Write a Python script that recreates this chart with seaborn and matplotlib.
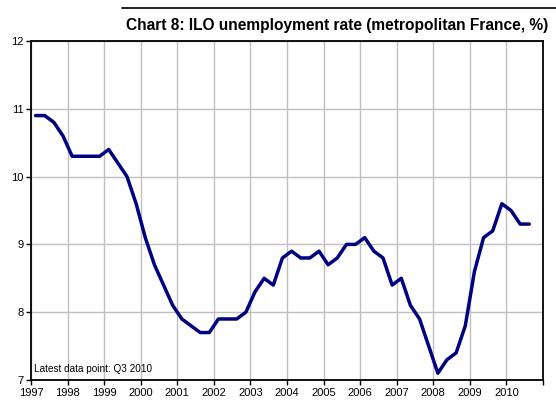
import numpy as np
import pandas as pd
import matplotlib
matplotlib.use("Agg")
import matplotlib.pyplot as plt
from matplotlib.lines import Line2D
import seaborn as sns

years = list(range(1997, 2011))
quarters = ["Q1", "Q2", "Q3", "Q4"]
rate = [
    10.9, 10.9, 10.8, 10.6,   # 1997
    10.3, 10.3, 10.3, 10.3,   # 1998
    10.4, 10.2, 10.0, 9.6,    # 1999
    9.1, 8.7, 8.4, 8.1,       # 2000
    7.9, 7.8, 7.7, 7.7,       # 2001
    7.9, 7.9, 7.9, 8.0,       # 2002
    8.3, 8.5, 8.4, 8.8,       # 2003
    8.9, 8.8, 8.8, 8.9,       # 2004
    8.7, 8.8, 9.0, 9.0,       # 2005
    9.1, 8.9, 8.8, 8.4,       # 2006
    8.5, 8.1, 7.9, 7.5,       # 2007
    7.1, 7.3, 7.4, 7.8,       # 2008
    8.6, 9.1, 9.2, 9.6,       # 2009
    9.5, 9.3, 9.3,            # 2010
]
x_ticks = list(range(1997, 2012))
x_labels = [str(y) for y in range(1997, 2011)] + [""]
y_ticks = [7, 8, 9, 10, 11, 12]
title = "Chart 8: ILO unemployment rate (metropolitan France, %)"
note = "Latest data point: Q3 2010"

period = [y + (q + 0.5) / 4 for y in years for q in range(4)][:len(rate)]
df = pd.DataFrame({"period": period, "rate": rate})

sns.set_theme(style="white")
plt.rcParams["font.family"] = ["Liberation Sans", "DejaVu Sans"]

fig = plt.figure(figsize=(5.56, 4.03), dpi=100)
ax = fig.add_axes([31 / 556, 1 - 380 / 403, 512 / 556, 339 / 403])

sns.lineplot(data=df, x="period", y="rate", ax=ax, color="#000080",
             linewidth=2.5, zorder=3)

ax.set_xlim(1997, 2011)
ax.set_ylim(7, 12)
ax.set_xticks(x_ticks)
ax.set_xticklabels(x_labels, fontsize=8, color="black")
ax.set_yticks(y_ticks)
ax.set_yticklabels([str(v) for v in y_ticks], fontsize=8, color="black")
ax.set_xlabel("")
ax.set_ylabel("")
ax.grid(True, color="#c0c0c0", linewidth=1.0, zorder=0)
for s in ax.spines.values():
    s.set_color("black")
    s.set_linewidth(1.3)
    s.set_visible(True)
ax.tick_params(axis="both", which="both", direction="out", length=3.5,
               width=1.0, color="black", pad=2, bottom=True, left=True)

ax.text(0.005, 0.018, note, transform=ax.transAxes, fontsize=7.2,
        ha="left", va="bottom", color="black")

fig.text(548 / 556, 1 - 30 / 403, title,
         family=["Liberation Sans", "DejaVu Sans"],
         fontsize=11.2, fontweight="bold", ha="right", va="baseline",
         color="black")
fig.add_artist(Line2D([122 / 556, 1.0], [1 - 8 / 403, 1 - 8 / 403],
                      transform=fig.transFigure, color="black", linewidth=1.2))

fig.savefig("out.png", dpi=100)
